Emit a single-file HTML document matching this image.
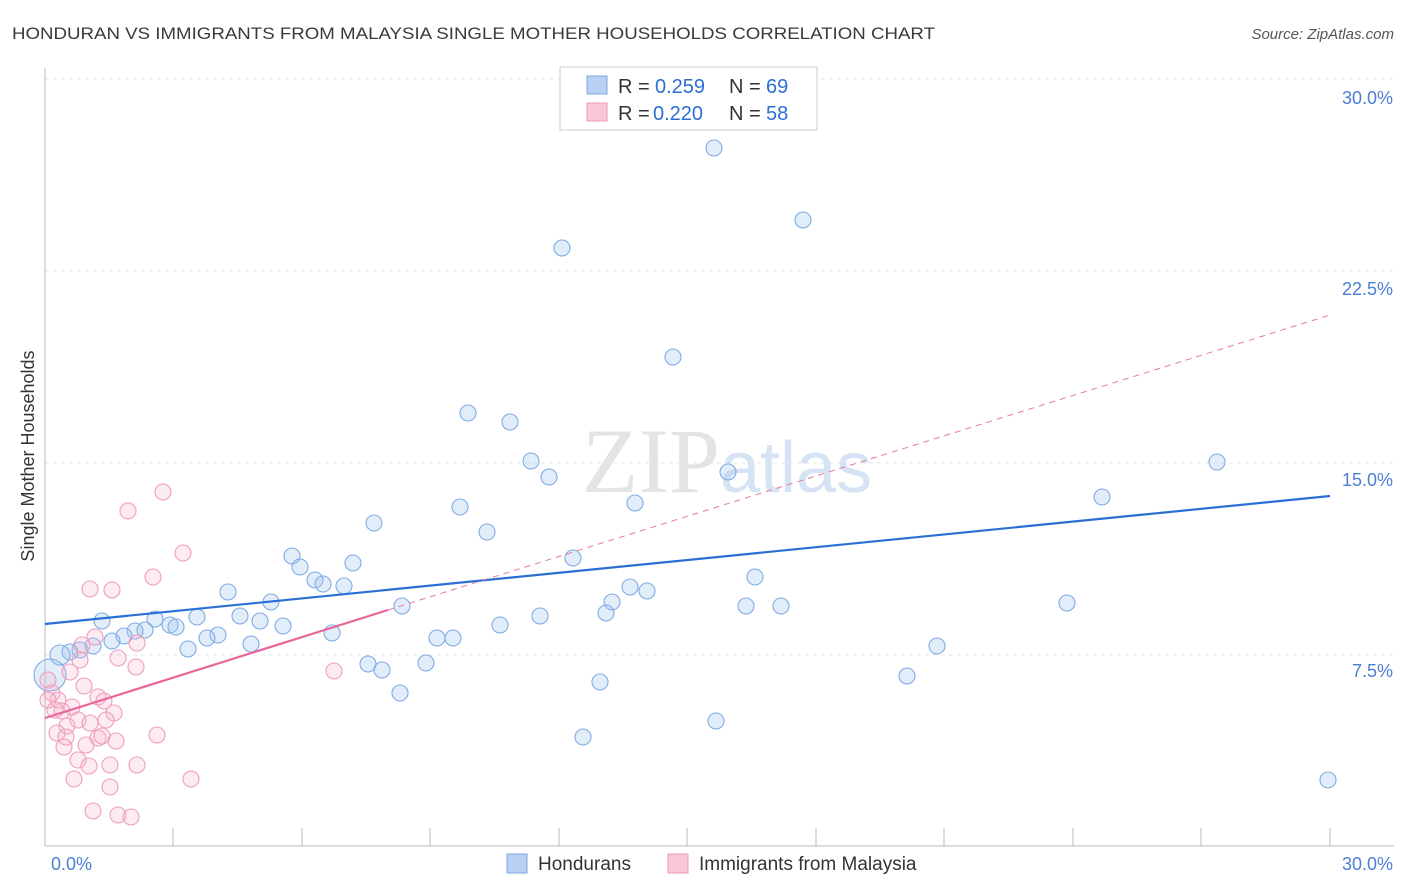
<!DOCTYPE html>
<html><head><meta charset="utf-8"><style>
body{margin:0;background:#fff;font-family:"Liberation Sans",sans-serif;}
svg{display:block}
</style></head><body>
<svg width="1406" height="892" viewBox="0 0 1406 892" font-family="Liberation Sans, sans-serif">
<text x="12" y="39" font-size="17" fill="#3a3a3a" textLength="923" lengthAdjust="spacingAndGlyphs">HONDURAN VS IMMIGRANTS FROM MALAYSIA SINGLE MOTHER HOUSEHOLDS CORRELATION CHART</text>
<text x="1394" y="39" font-size="15" fill="#555" font-style="italic" text-anchor="end">Source: ZipAtlas.com</text>
<g stroke="#e6e6e6" stroke-dasharray="4,4" stroke-width="1">
<line x1="45" y1="79" x2="1394" y2="79"/><line x1="45" y1="271" x2="1394" y2="271"/>
<line x1="45" y1="463" x2="1394" y2="463"/><line x1="45" y1="655" x2="1394" y2="655"/>
</g>
<line x1="45" y1="68" x2="45" y2="846" stroke="#bbb"/>
<line x1="45" y1="846" x2="1394" y2="846" stroke="#bbb"/>
<g stroke="#bbb">
<line x1="173" y1="828" x2="173" y2="846"/><line x1="302" y1="828" x2="302" y2="846"/><line x1="430" y1="828" x2="430" y2="846"/><line x1="559" y1="828" x2="559" y2="846"/><line x1="687" y1="828" x2="687" y2="846"/><line x1="816" y1="828" x2="816" y2="846"/><line x1="944" y1="828" x2="944" y2="846"/><line x1="1073" y1="828" x2="1073" y2="846"/><line x1="1201" y1="828" x2="1201" y2="846"/><line x1="1330" y1="828" x2="1330" y2="846"/>
</g>
<g fill="#4a7fd4" font-size="18" text-anchor="end">
<text x="1393" y="104">30.0%</text><text x="1393" y="295">22.5%</text><text x="1393" y="486">15.0%</text><text x="1393" y="677">7.5%</text>
<text x="1393" y="870">30.0%</text><text x="92" y="870">0.0%</text>
</g>
<text transform="translate(34,456) rotate(-90)" font-size="18" fill="#333" text-anchor="middle">Single Mother Households</text>
<text x="720" y="492" font-size="92" fill="#e4e4e4" font-family="Liberation Serif, serif" text-anchor="end">ZIP</text>
<text x="720" y="492" font-size="72" fill="#d6e3f5">atlas</text>
<g fill="rgba(160,195,240,0.3)" stroke="#80abe4" stroke-width="1.1">
<circle cx="714" cy="148" r="8"/><circle cx="803" cy="220" r="8"/><circle cx="562" cy="248" r="8"/><circle cx="673" cy="357" r="8"/><circle cx="468" cy="413" r="8"/><circle cx="510" cy="422" r="8"/><circle cx="531" cy="461" r="8"/><circle cx="549" cy="477" r="8"/><circle cx="728" cy="472" r="8"/><circle cx="1217" cy="462" r="8"/><circle cx="1102" cy="497" r="8"/><circle cx="635" cy="503" r="8"/><circle cx="460" cy="507" r="8"/><circle cx="374" cy="523" r="8"/><circle cx="487" cy="532" r="8"/><circle cx="573" cy="558" r="8"/><circle cx="292" cy="556" r="8"/><circle cx="300" cy="567" r="8"/><circle cx="353" cy="563" r="8"/><circle cx="315" cy="580" r="8"/><circle cx="323" cy="584" r="8"/><circle cx="344" cy="586" r="8"/><circle cx="755" cy="577" r="8"/><circle cx="630" cy="587" r="8"/><circle cx="647" cy="591" r="8"/><circle cx="228" cy="592" r="8"/><circle cx="271" cy="602" r="8"/><circle cx="612" cy="602" r="8"/><circle cx="402" cy="606" r="8"/><circle cx="606" cy="613" r="8"/><circle cx="746" cy="606" r="8"/><circle cx="781" cy="606" r="8"/><circle cx="1067" cy="603" r="8"/><circle cx="540" cy="616" r="8"/><circle cx="500" cy="625" r="8"/><circle cx="240" cy="616" r="8"/><circle cx="197" cy="617" r="8"/><circle cx="155" cy="619" r="8"/><circle cx="102" cy="621" r="8"/><circle cx="260" cy="621" r="8"/><circle cx="283" cy="626" r="8"/><circle cx="170" cy="625" r="8"/><circle cx="176" cy="627" r="8"/><circle cx="145" cy="630" r="8"/><circle cx="135" cy="631" r="8"/><circle cx="124" cy="636" r="8"/><circle cx="112" cy="641" r="8"/><circle cx="332" cy="633" r="8"/><circle cx="437" cy="638" r="8"/><circle cx="453" cy="638" r="8"/><circle cx="218" cy="635" r="8"/><circle cx="207" cy="638" r="8"/><circle cx="188" cy="649" r="8"/><circle cx="251" cy="644" r="8"/><circle cx="93" cy="646" r="8"/><circle cx="80" cy="650" r="8"/><circle cx="70" cy="652" r="8"/><circle cx="60" cy="655" r="10"/><circle cx="937" cy="646" r="8"/><circle cx="368" cy="664" r="8"/><circle cx="382" cy="670" r="8"/><circle cx="426" cy="663" r="8"/><circle cx="907" cy="676" r="8"/><circle cx="600" cy="682" r="8"/><circle cx="400" cy="693" r="8"/><circle cx="716" cy="721" r="8"/><circle cx="583" cy="737" r="8"/><circle cx="1328" cy="780" r="8"/><circle cx="50" cy="675" r="16"/>
</g>
<g fill="rgba(245,180,205,0.25)" stroke="#f09cbb" stroke-width="1.1">
<circle cx="163" cy="492" r="8"/><circle cx="128" cy="511" r="8"/><circle cx="183" cy="553" r="8"/><circle cx="153" cy="577" r="8"/><circle cx="90" cy="589" r="8"/><circle cx="112" cy="590" r="8"/><circle cx="95" cy="637" r="8"/><circle cx="82" cy="645" r="8"/><circle cx="137" cy="643" r="8"/><circle cx="118" cy="658" r="8"/><circle cx="80" cy="660" r="8"/><circle cx="136" cy="667" r="8"/><circle cx="334" cy="671" r="8"/><circle cx="70" cy="672" r="8"/><circle cx="48" cy="680" r="8"/><circle cx="84" cy="686" r="8"/><circle cx="52" cy="693" r="8"/><circle cx="98" cy="697" r="8"/><circle cx="58" cy="700" r="8"/><circle cx="104" cy="701" r="8"/><circle cx="72" cy="707" r="8"/><circle cx="62" cy="711" r="8"/><circle cx="114" cy="713" r="8"/><circle cx="78" cy="720" r="8"/><circle cx="106" cy="720" r="8"/><circle cx="90" cy="723" r="8"/><circle cx="67" cy="726" r="8"/><circle cx="57" cy="733" r="8"/><circle cx="66" cy="737" r="8"/><circle cx="98" cy="738" r="8"/><circle cx="157" cy="735" r="8"/><circle cx="116" cy="741" r="8"/><circle cx="64" cy="747" r="8"/><circle cx="86" cy="745" r="8"/><circle cx="102" cy="736" r="8"/><circle cx="78" cy="760" r="8"/><circle cx="110" cy="765" r="8"/><circle cx="137" cy="765" r="8"/><circle cx="89" cy="766" r="8"/><circle cx="74" cy="779" r="8"/><circle cx="110" cy="787" r="8"/><circle cx="191" cy="779" r="8"/><circle cx="93" cy="811" r="8"/><circle cx="118" cy="815" r="8"/><circle cx="131" cy="817" r="8"/><circle cx="48" cy="700" r="8"/><circle cx="55" cy="710" r="8"/>
</g>
<line x1="45" y1="624" x2="1330" y2="496" stroke="#2a6fd6" stroke-width="2.2"/>
<line x1="388" y1="610" x2="1330" y2="315" stroke="#e8789f" stroke-width="1" stroke-dasharray="6,5"/>
<line x1="45" y1="718" x2="388" y2="610" stroke="#e8669a" stroke-width="2.2"/>
<rect x="560" y="67" width="257" height="63" fill="#fff" stroke="#ccc"/>
<rect x="587" y="76" width="20" height="18" fill="#b7d0f3" stroke="#7fa6e0"/>
<rect x="587" y="103" width="20" height="18" fill="#f8c8d8" stroke="#ec9ab7"/>
<g font-size="20">
<text x="618" y="93" fill="#333">R = </text><text x="655" y="93" fill="#2a6fd6">0.259</text>
<text x="729" y="93" fill="#333">N = </text><text x="766" y="93" fill="#2a6fd6">69</text>
<text x="618" y="120" fill="#333">R = </text><text x="653" y="120" fill="#2a6fd6">0.220</text>
<text x="729" y="120" fill="#333">N = </text><text x="766" y="120" fill="#2a6fd6">58</text>
</g>
<rect x="507" y="854" width="20" height="19" fill="#b7d0f3" stroke="#7fa6e0"/>
<text x="538" y="870" font-size="19" fill="#333">Hondurans</text>
<rect x="668" y="854" width="20" height="19" fill="#f8c8d8" stroke="#ec9ab7"/>
<text x="699" y="870" font-size="19" fill="#333">Immigrants from Malaysia</text>
</svg>
</body></html>
